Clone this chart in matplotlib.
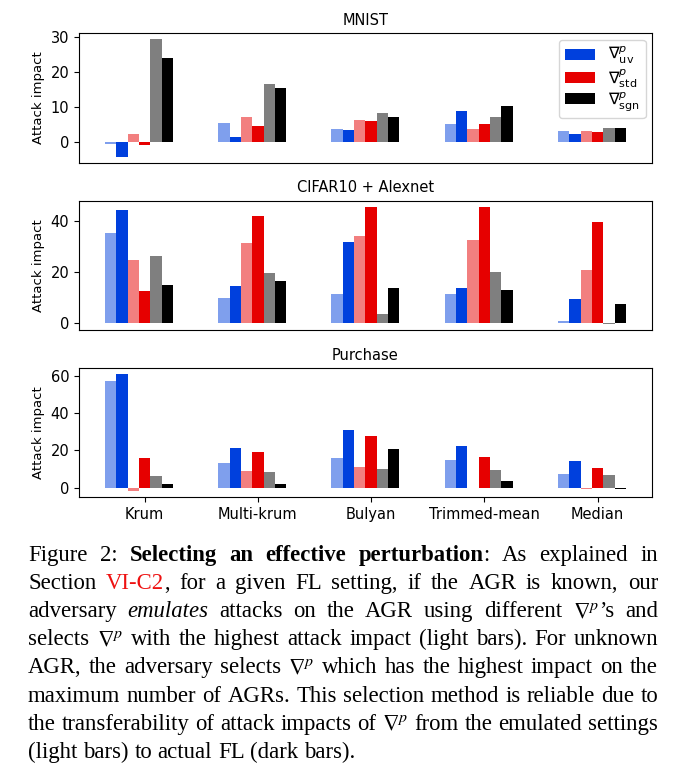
import re

import matplotlib

matplotlib.use("Agg")
import matplotlib.pyplot as plt
import numpy as np

# ---- data ------------------------------------------------------------------
aggregators = ["Krum", "Multi-krum", "Bulyan", "Trimmed-mean", "Median"]
panel_titles = ["MNIST", "CIFAR10 + Alexnet", "Purchase"]
legend_labels = [r"$\nabla^p_{\mathrm{uv}}$", r"$\nabla^p_{\mathrm{std}}$", r"$\nabla^p_{\mathrm{sgn}}$"]

# light bars = emulated setting, dark bars = actual FL
mnist_uv_emul = [-0.5, 5.4, 3.7, 5.1, 3.1]
mnist_uv_fl = [-4.2, 1.4, 3.4, 8.9, 2.3]
mnist_std_emul = [2.3, 7.1, 6.3, 3.7, 3.1]
mnist_std_fl = [-0.9, 4.6, 6.0, 5.1, 2.9]
mnist_sgn_emul = [29.4, 16.6, 8.3, 7.1, 4.0]
mnist_sgn_fl = [24.0, 15.4, 7.1, 10.3, 4.0]

cifar_uv_emul = [35.1, 9.9, 11.5, 11.5, 1.0]
cifar_uv_fl = [44.0, 14.6, 31.6, 13.8, 9.5]
cifar_std_emul = [24.6, 31.2, 33.9, 32.4, 20.8]
cifar_std_fl = [12.6, 41.7, 45.5, 45.2, 39.4]
cifar_sgn_emul = [26.2, 19.6, 3.4, 20.0, -0.4]
cifar_sgn_fl = [15.0, 16.5, 13.8, 13.0, 7.6]

purchase_uv_emul = [57.3, 13.4, 16.1, 15.0, 7.5]
purchase_uv_fl = [61.1, 21.4, 31.1, 22.5, 14.5]
purchase_std_emul = [-2.0, 9.1, 11.3, -0.4, -0.9]
purchase_std_fl = [16.1, 19.3, 27.9, 16.6, 10.7]
purchase_sgn_emul = [6.4, 8.6, 10.2, 9.6, 7.0]
purchase_sgn_fl = [2.1, 2.1, 20.9, 3.8, -0.9]

caption_lines = [
    "Figure 2: **Selecting** **an** **effective** **perturbation**: As explained in",
    "Section {VI-C2}, for a given FL setting, if the AGR is known, our",
    "adversary _emulates_ attacks on the AGR using different $\\nabla^p$\u2019s and",
    "selects $\\nabla^p$ with the highest attack impact (light bars). For unknown",
    "AGR, the adversary selects $\\nabla^p$ which has the highest impact on the",
    "maximum number of AGRs. This selection method is reliable due to",
    "the transferability of attack impacts of $\\nabla^p$ from the emulated settings",
    "(light bars) to actual FL (dark bars).",
]

panels = [
    [mnist_uv_emul, mnist_uv_fl, mnist_std_emul, mnist_std_fl, mnist_sgn_emul, mnist_sgn_fl],
    [cifar_uv_emul, cifar_uv_fl, cifar_std_emul, cifar_std_fl, cifar_sgn_emul, cifar_sgn_fl],
    [purchase_uv_emul, purchase_uv_fl, purchase_std_emul, purchase_std_fl,
     purchase_sgn_emul, purchase_sgn_fl],
]

COLORS = ["#0040dd", "#e60000", "black"]
WIDTH = 0.1

fig = plt.figure(figsize=(6.78, 7.77), dpi=100)

x = np.arange(len(aggregators))
axes = []
for k, (title, series) in enumerate(zip(panel_titles, panels)):
    ax = fig.add_axes([0.1165, 0.7906 - k * 0.2153, 0.845, 0.1665])
    for i, values in enumerate(series):
        color = COLORS[i // 2]
        alpha = 0.5 if i % 2 == 0 else 1.0
        ax.bar(x + (i - 3) * WIDTH, values, WIDTH, color=color, alpha=alpha,
               label=legend_labels[i // 2] if i % 2 == 1 else None)
    ax.set_title(title, fontsize=10.5)
    ax.set_ylabel("Attack impact", fontsize=9.5)
    ax.tick_params(axis="y", labelsize=10.5)
    ax.set_xticks(x)
    if k == 2:
        ax.set_xticklabels(aggregators, fontsize=10.5)
    else:
        ax.tick_params(axis="x", bottom=False, labelbottom=False)
    axes.append(ax)

axes[0].legend(loc="upper right", fontsize=11.5, handlelength=1.9,
               labelspacing=0.02, borderpad=0.35, handletextpad=0.8,
               borderaxespad=0.4)

# ---- caption, justified like the paper ---------------------------------------
renderer = fig.canvas.get_renderer()
CAP_SIZE = 16.4
LEFT, RIGHT = 28, 658
TOKEN = re.compile(r"\*\*(.+?)\*\*|_(.+?)_|\{(.+?)\}|(\$.+?\$)|([^*_{$]+)")


def segments(word):
    out = []
    for m in TOKEN.finditer(word):
        bold, ital, red, math, plain = m.groups()
        if bold:
            out.append((bold, dict(weight="bold")))
        elif ital:
            out.append((ital, dict(style="italic")))
        elif red:
            out.append((red, dict(color="#ee1111")))
        elif math:
            out.append((math, dict(math_fontfamily="stix")))
        else:
            out.append((plain, {}))
    return out


def px_to_fig(px, py):
    return px / 678, 1 - py / 777


for n, line in enumerate(caption_lines):
    y = 561 + n * 28.1
    words = []
    for w in line.split(" "):
        items = []
        for s, kw in segments(w):
            t = fig.text(0, 0, s, fontsize=CAP_SIZE, family="Liberation Serif",
                         va="baseline", ha="left", **kw)
            items.append((t, t.get_window_extent(renderer).width))
        words.append(items)
    widths = [sum(wd for _, wd in items) for items in words]
    if n < len(caption_lines) - 1:
        gap = (RIGHT - LEFT - sum(widths)) / (len(words) - 1)
    else:
        gap = 0.25 * CAP_SIZE * 100 / 72
    xpos = LEFT
    for items, wtot in zip(words, widths):
        xx = xpos
        for t, wd in items:
            t.set_position(px_to_fig(xx, y))
            xx += wd
        xpos += wtot + gap

fig.savefig("out.png", dpi=100)
